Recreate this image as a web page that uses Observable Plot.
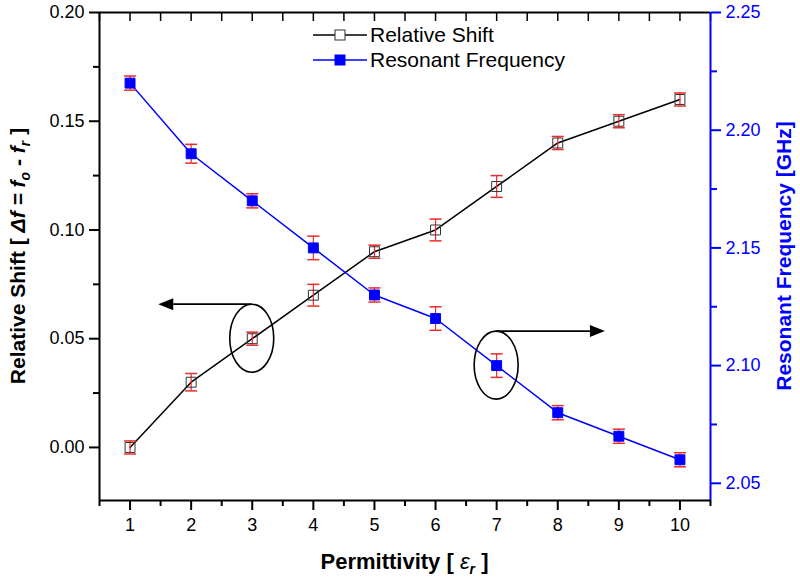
<!DOCTYPE html>
<html><head><meta charset="utf-8">
<script src="https://cdn.jsdelivr.net/npm/d3@7"></script>
<script src="https://cdn.jsdelivr.net/npm/@observablehq/plot@0.6"></script>
<style>body{margin:0;background:#fff} svg{display:block}</style>
</head><body><div id="chart"></div>
<script>
// ---- data ----
const permittivity   = [1, 2, 3, 4, 5, 6, 7, 8, 9, 10];
const relativeShift  = [0.00, 0.03, 0.05, 0.07, 0.09, 0.10, 0.12, 0.14, 0.15, 0.16];
const shiftError     = [0.003, 0.004, 0.003, 0.005, 0.003, 0.005, 0.005, 0.003, 0.003, 0.003];
const resonantFreq   = [2.22, 2.19, 2.17, 2.15, 2.13, 2.12, 2.10, 2.08, 2.07, 2.06];
const freqError      = [0.003, 0.004, 0.003, 0.005, 0.003, 0.005, 0.005, 0.003, 0.003, 0.003];
const xTicks         = [1, 2, 3, 4, 5, 6, 7, 8, 9, 10];
const xMinorTicks    = [0.5, 1.5, 2.5, 3.5, 4.5, 5.5, 6.5, 7.5, 8.5, 9.5, 10.5];
const leftTicks      = [0.00, 0.05, 0.10, 0.15, 0.20];
const leftMinorTicks = [0.025, 0.075, 0.125, 0.175];
const rightTicks     = [2.05, 2.10, 2.15, 2.20, 2.25];
const rightMinorTicks= [2.075, 2.125, 2.175, 2.225];
const legendLabels   = ["Relative Shift", "Resonant Frequency"];
const xDomain = [0.5, 10.5];
const leftDomain = [-0.0244, 0.20];
const rightDomain = [2.0427, 2.25];
// annotation: circled point and arrow pointing to its axis
const annotations = [
  {series: "shift", x: 3, tipX: 1.47},
  {series: "freq", x: 7, tipX: 8.78}
];

const BLUE = "#0000ff", RED = "#ee2a2a", FONT = "'Liberation Sans', Arial, sans-serif";
const toLeft = d3.scaleLinear().domain(rightDomain).range(leftDomain);

const shiftData = permittivity.map((x, i) => ({x, y: relativeShift[i], e: shiftError[i]}));
const freqData = permittivity.map((x, i) => ({x, y: toLeft(resonantFreq[i]), e: toLeft(resonantFreq[i] + freqError[i]) - toLeft(resonantFreq[i])}));

const cap = {draw(ctx, size) { const w = Math.sqrt(size) / 2; ctx.moveTo(-w, 0); ctx.lineTo(w, 0); }};
const caps = d => d.flatMap(p => [{x: p.x, y: p.y - p.e}, {x: p.x, y: p.y + p.e}]);

const NS = "http://www.w3.org/2000/svg";
function el(tag, attrs, text) {
  const e = document.createElementNS(NS, tag);
  for (const k in attrs) e.setAttribute(k, attrs[k]);
  if (text != null) e.textContent = text;
  return e;
}
function richText(attrs, parts) {
  const t = el("text", attrs);
  for (const p of parts) t.appendChild(el("tspan", p.a || {}, p.t));
  return t;
}

const annotationMark = (index, scales) => {
  const g = el("g", {});
  for (const a of annotations) {
    const d = (a.series === "shift" ? shiftData : freqData).find(p => p.x === a.x);
    const cx = scales.x(d.x), cy = scales.y(d.y);
    const rx = 22, ry = 34;
    g.appendChild(el("ellipse", {cx, cy, rx, ry, fill: "none", stroke: "#000", "stroke-width": 1.6}));
    const ay = cy - ry, tx = scales.x(a.tipX), dir = Math.sign(tx - cx);
    const hl = 15, hw = 6;
    g.appendChild(el("line", {x1: cx, y1: ay, x2: tx - dir * hl, y2: ay, stroke: "#000", "stroke-width": 1.8}));
    g.appendChild(el("path", {d: `M${tx},${ay}L${tx - dir * hl},${ay - hw}L${tx - dir * hl},${ay + hw}Z`, fill: "#000"}));
  }
  return g;
};

const legendMark = () => {
  const g = el("g", {"font-family": FONT, "font-size": 21, "text-anchor": "start"});
  const styles = [{stroke: "#000", fill: "#fff", sq: "#333"}, {stroke: BLUE, fill: BLUE, sq: BLUE}];
  legendLabels.forEach((lab, i) => {
    const y = 35 + i * 25, s = styles[i];
    g.appendChild(el("line", {x1: 313, x2: 367, y1: y, y2: y, stroke: s.stroke, "stroke-width": 1.5}));
    g.appendChild(el("rect", {x: 335, y: y - 5, width: 10, height: 10, fill: s.fill, stroke: s.sq, "stroke-width": 1}));
    g.appendChild(el("text", {x: 370, y: y + 7, fill: "#000", "text-anchor": "start"}, lab));
  });
  return g;
};

const titlesMark = (index, scales, values, dim) => {
  const g = el("g", {"font-family": FONT, "font-size": 21, "font-weight": "bold"});
  const midY = (dim.marginTop + dim.height - dim.marginBottom) / 2;
  const midX = (dim.marginLeft + dim.width - dim.marginRight) / 2;
  const it = {"font-style": "italic"};
  g.appendChild(richText({transform: `translate(25,${midY}) rotate(-90)`, "text-anchor": "middle", fill: "#000"}, [
    {t: "Relative Shift [ "}, {t: "Δf = f", a: it}, {t: "o", a: {...it, "font-size": 14, dy: 5}},
    {t: " - ", a: {...it, dy: -5}}, {t: "f", a: it}, {t: "r", a: {...it, "font-size": 14, dy: 5}}, {t: " ]", a: {dy: -5}}
  ]));
  g.appendChild(el("text", {transform: `translate(791,${midY}) rotate(-90)`, "text-anchor": "middle", fill: BLUE}, "Resonant Frequency [GHz]"));
  g.appendChild(richText({x: midX, y: 569, "text-anchor": "middle", fill: "#000", "font-size": 22}, [
    {t: "Permittivity [ "}, {t: "ε", a: {...it, "font-weight": "normal"}}, {t: "r", a: {...it, "font-size": 14, dy: 5}}, {t: " ]", a: {dy: -5}}
  ]));
  return g;
};

const chart = Plot.plot({
  width: 800, height: 586,
  marginLeft: 99, marginRight: 90, marginTop: 12, marginBottom: 86,
  style: {fontFamily: FONT, fontSize: "18px", background: "#fff", color: "#000"},
  x: {domain: xDomain},
  y: {domain: leftDomain},
  marks: [
    // axes
    Plot.axisX(xTicks, {anchor: "bottom", tickSize: 10, tickPadding: 8, tickFormat: d3.format("d"), strokeWidth: 2, label: null}),
    Plot.axisX(xMinorTicks, {anchor: "bottom", tickSize: 6, tickFormat: () => "", strokeWidth: 2, label: null}),
    Plot.axisX(xMinorTicks.concat(xTicks), {anchor: "top", tickSize: -8, tickFormat: () => "", strokeWidth: 1.5, label: null}),
    Plot.axisY(leftTicks, {anchor: "left", tickSize: 10, tickPadding: 5, tickFormat: d3.format(".2f"), strokeWidth: 2, label: null}),
    Plot.axisY(leftMinorTicks, {anchor: "left", tickSize: 6, tickFormat: () => "", strokeWidth: 2, label: null}),
    Plot.axisY(rightTicks.map(toLeft), {anchor: "right", tickSize: 10, tickPadding: 5, tickFormat: v => toLeft.invert(v).toFixed(2), color: BLUE, strokeWidth: 2, label: null}),
    Plot.axisY(rightMinorTicks.map(toLeft), {anchor: "right", tickSize: 6, tickFormat: () => "", color: BLUE, strokeWidth: 2, label: null}),
    Plot.ruleX([xDomain[0]], {stroke: "#000", strokeWidth: 2}),
    Plot.ruleY([leftDomain[0]], {stroke: "#000", strokeWidth: 2}),
    Plot.ruleY([leftDomain[1]], {stroke: "#000", strokeWidth: 2}),
    Plot.ruleX([xDomain[1]], {stroke: BLUE, strokeWidth: 2}),
    // series lines
    Plot.line(shiftData, {x: "x", y: "y", stroke: "#000", strokeWidth: 1.5}),
    Plot.line(freqData, {x: "x", y: "y", stroke: BLUE, strokeWidth: 1.5}),
    // error bars
    Plot.ruleX(shiftData, {x: "x", y1: d => d.y - d.e, y2: d => d.y + d.e, stroke: RED, strokeWidth: 1.2}),
    Plot.ruleX(freqData, {x: "x", y1: d => d.y - d.e, y2: d => d.y + d.e, stroke: RED, strokeWidth: 1.2}),
    Plot.dot(caps(shiftData), {x: "x", y: "y", symbol: cap, r: 6.8, stroke: RED, strokeWidth: 1.5}),
    Plot.dot(caps(freqData), {x: "x", y: "y", symbol: cap, r: 6.8, stroke: RED, strokeWidth: 1.5}),
    // markers
    Plot.dot(shiftData, {x: "x", y: "y", symbol: "square", r: 5.6, fill: "none", stroke: "#333", strokeWidth: 1}),
    Plot.dot(freqData, {x: "x", y: "y", symbol: "square", r: 5.6, fill: BLUE, stroke: BLUE, strokeWidth: 1}),
    annotationMark,
    legendMark,
    titlesMark
  ]
});
document.getElementById("chart").appendChild(chart);
</script>
</body></html>
